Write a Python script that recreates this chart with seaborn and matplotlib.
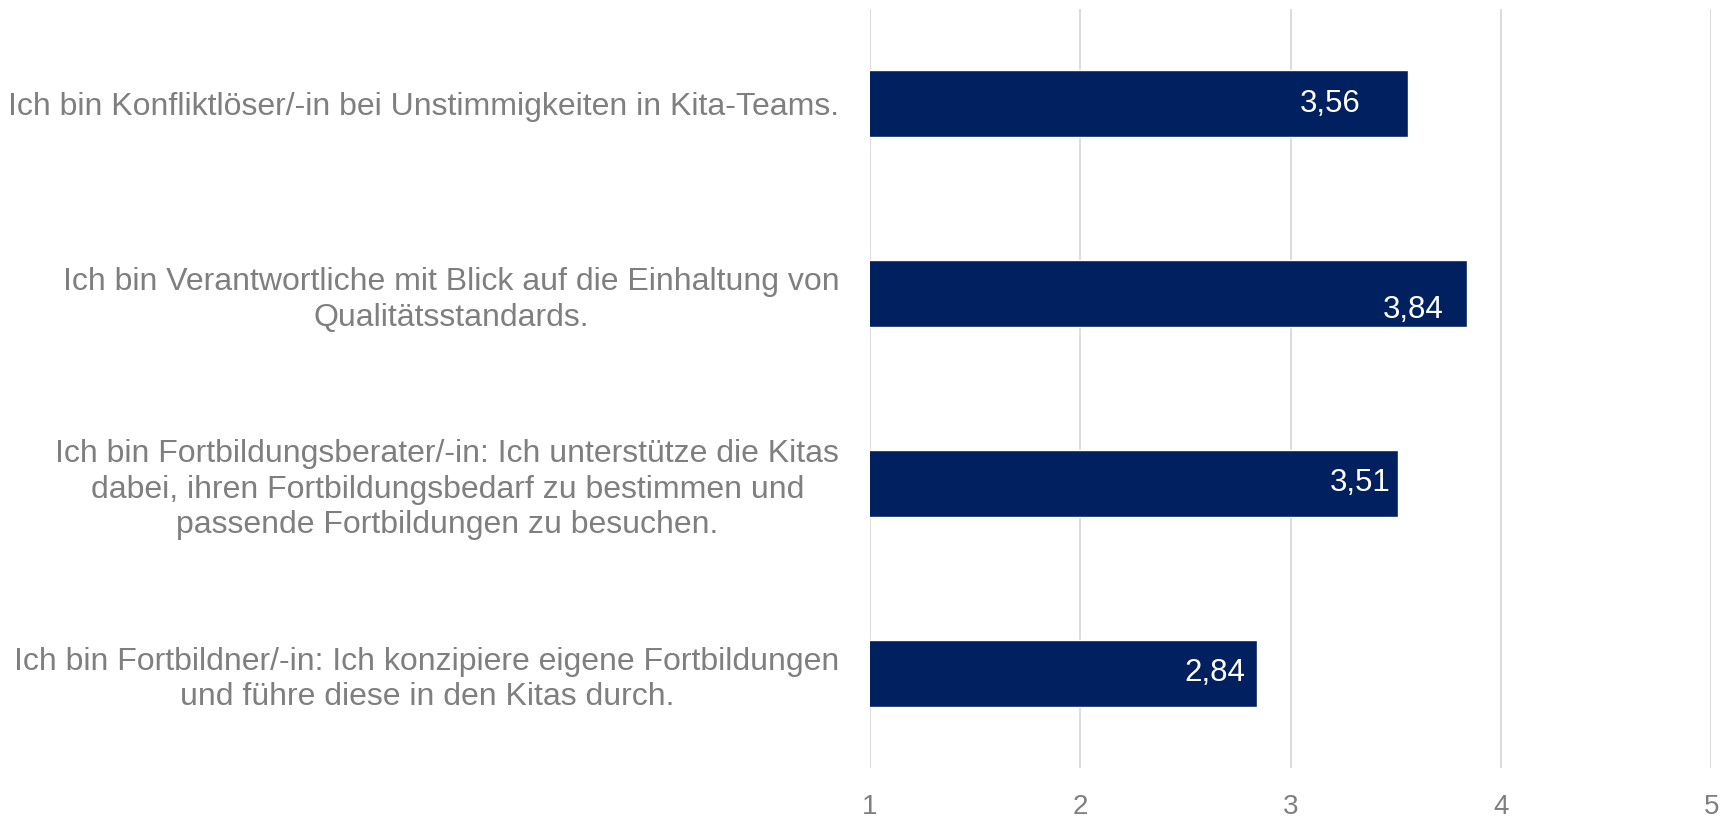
import matplotlib
matplotlib.use("Agg")
import matplotlib.pyplot as plt
import seaborn as sns
import pandas as pd

# Daten
kategorien = [
    "Ich bin Konfliktlöser/-in bei Unstimmigkeiten in Kita-Teams.",
    "Ich bin Verantwortliche mit Blick auf die Einhaltung von\nQualitätsstandards.",
    "Ich bin Fortbildungsberater/-in: Ich unterstütze die Kitas\ndabei, ihren Fortbildungsbedarf zu bestimmen und\npassende Fortbildungen zu besuchen.",
    "Ich bin Fortbildner/-in: Ich konzipiere eigene Fortbildungen\nund führe diese in den Kitas durch.",
]
werte = [3.56, 3.84, 3.51, 2.84]
x_ticks = [1, 2, 3, 4, 5]

# Excel-Position der Datenbeschriftungen (Versatz in Punkten)
label_dx = [-34.5, -17, -5, -8.6]
label_dy = [0, -12, 0, 0]

df = pd.DataFrame({"kategorie": kategorien, "wert": werte})

sns.set_theme(style="white")
plt.rcParams["font.family"] = ["Liberation Sans", "DejaVu Sans"]

grau = "#7F7F7F"
navy = "#002060"

fig = plt.figure(figsize=(17.25, 8.18), dpi=100)
ax = fig.add_axes([0.5043, 0.061, 0.4877, 0.928])

sns.barplot(data=df, x="wert", y="kategorie", orient="h", color=navy,
            width=0.353, saturation=1, ax=ax)

ax.set_xlim(1, 5)
ax.set_xticks(x_ticks)
ax.set_xticklabels([str(t) for t in x_ticks])
ax.grid(axis="x", color="#D9D9D9", linewidth=1.3)
ax.set_axisbelow(True)
for s in ax.spines.values():
    s.set_visible(False)
ax.set_xlabel("")
ax.set_ylabel("")
ax.tick_params(axis="x", length=0, pad=19, labelsize=20, labelcolor=grau)
ax.tick_params(axis="y", length=0, pad=22, labelsize=23, labelcolor=grau)
for lab in ax.get_yticklabels():
    lab.set_multialignment("center")
    lab.set_linespacing(1.24)

for i, v in enumerate(werte):
    ax.annotate(f"{v:.2f}".replace(".", ","), xy=(v, i),
                xytext=(label_dx[i], label_dy[i]), textcoords="offset points",
                ha="right", va="center", color="white", fontsize=22.5)

fig.savefig("out.png", dpi=100)
